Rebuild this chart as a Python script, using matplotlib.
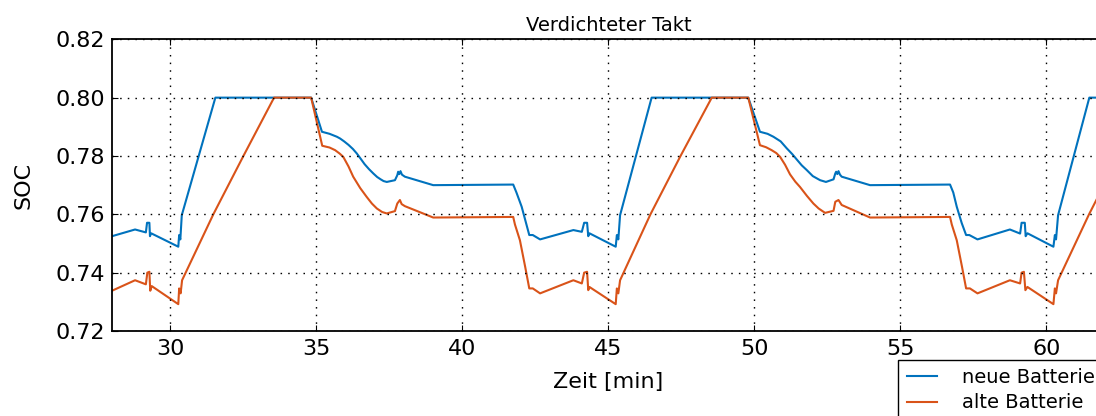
import matplotlib
matplotlib.use("Agg")
import matplotlib.pyplot as plt

# SOC-Verlauf bei verdichtetem Takt, neue vs. alte Batterie
t_neu = [28.00, 28.79, 29.16, 29.20, 29.28, 29.30, 29.34, 30.27, 30.30, 30.34,
         30.39, 31.54, 34.82, 35.19, 35.45, 35.70, 35.81, 35.95, 36.10, 36.25,
         36.38, 36.52, 36.65, 36.80, 36.95, 37.08, 37.20, 37.30, 37.41, 37.69,
         37.77, 37.80, 37.84, 37.88, 37.93, 38.03, 39.00, 41.74, 41.85, 42.03,
         42.18, 42.29, 42.41, 42.66, 43.80, 44.09, 44.17, 44.27, 44.31, 44.35,
         45.25, 45.29, 45.34, 45.40, 46.48, 49.79, 50.19, 50.45, 50.65, 50.90,
         51.11, 51.30, 51.45, 51.62, 51.79, 52.00, 52.25, 52.45, 52.71, 52.77,
         52.80, 52.84, 52.88, 52.93, 52.99, 53.96, 56.70, 56.81, 56.93, 57.10,
         57.25, 57.36, 57.64, 58.75, 59.10, 59.15, 59.26, 59.29, 59.35, 60.24,
         60.29, 60.33, 60.40, 61.47, 62.50]
soc_neu = [0.7525, 0.7548, 0.7538, 0.7571, 0.7571, 0.7525, 0.7535, 0.7489, 0.7529, 0.7514,
           0.7597, 0.8000, 0.8000, 0.7883, 0.7876, 0.7866, 0.7860, 0.7850, 0.7838, 0.7824,
           0.7809, 0.7790, 0.7772, 0.7755, 0.7740, 0.7728, 0.7720, 0.7714, 0.7711, 0.7717,
           0.7734, 0.7746, 0.7738, 0.7748, 0.7736, 0.7729, 0.7700, 0.7702, 0.7675, 0.7626,
           0.7570, 0.7529, 0.7529, 0.7514, 0.7546, 0.7540, 0.7571, 0.7571, 0.7525, 0.7535,
           0.7489, 0.7529, 0.7514, 0.7597, 0.8000, 0.8000, 0.7883, 0.7876, 0.7866, 0.7850,
           0.7826, 0.7806, 0.7788, 0.7768, 0.7752, 0.7731, 0.7717, 0.7711, 0.7720, 0.7740,
           0.7746, 0.7738, 0.7748, 0.7736, 0.7729, 0.7700, 0.7702, 0.7675, 0.7626, 0.7570,
           0.7529, 0.7529, 0.7514, 0.7548, 0.7534, 0.7571, 0.7571, 0.7525, 0.7535, 0.7489,
           0.7529, 0.7514, 0.7597, 0.8000, 0.8000]

t_alt = [28.00, 28.79, 29.16, 29.21, 29.28, 29.31, 29.36, 30.27, 30.30, 30.35,
         30.40, 31.47, 32.50, 33.55, 34.82, 35.20, 35.45, 35.64, 35.80, 35.92,
         36.10, 36.26, 36.50, 36.72, 36.90, 37.07, 37.25, 37.41, 37.69, 37.77,
         37.86, 37.92, 38.03, 39.00, 41.74, 41.80, 41.97, 42.15, 42.29, 42.41,
         42.66, 43.80, 44.09, 44.17, 44.27, 44.31, 44.35, 45.25, 45.29, 45.34,
         45.40, 46.44, 47.47, 48.54, 49.79, 50.19, 50.40, 50.59, 50.75, 50.88,
         51.05, 51.22, 51.40, 51.56, 51.80, 52.02, 52.20, 52.42, 52.71, 52.77,
         52.88, 52.99, 53.96, 56.70, 56.76, 56.93, 57.11, 57.25, 57.38, 57.64,
         58.75, 59.10, 59.15, 59.23, 59.28, 59.35, 60.24, 60.29, 60.33, 60.40,
         61.46, 62.48]
soc_alt = [0.7338, 0.7374, 0.7360, 0.7400, 0.7403, 0.7338, 0.7354, 0.7292, 0.7346, 0.7329,
           0.7374, 0.7600, 0.7800, 0.8000, 0.8000, 0.7835, 0.7829, 0.7820, 0.7808, 0.7797,
           0.7764, 0.7729, 0.7690, 0.7660, 0.7637, 0.7620, 0.7608, 0.7603, 0.7611, 0.7637,
           0.7649, 0.7635, 0.7628, 0.7589, 0.7591, 0.7565, 0.7511, 0.7420, 0.7346, 0.7346,
           0.7329, 0.7374, 0.7363, 0.7400, 0.7403, 0.7340, 0.7351, 0.7292, 0.7346, 0.7329,
           0.7374, 0.7600, 0.7800, 0.8000, 0.8000, 0.7837, 0.7830, 0.7820, 0.7810, 0.7797,
           0.7770, 0.7737, 0.7712, 0.7694, 0.7663, 0.7637, 0.7620, 0.7605, 0.7612, 0.7643,
           0.7649, 0.7632, 0.7589, 0.7591, 0.7565, 0.7511, 0.7420, 0.7346, 0.7346, 0.7329,
           0.7374, 0.7363, 0.7400, 0.7403, 0.7340, 0.7351, 0.7292, 0.7346, 0.7329, 0.7374,
           0.7600, 0.7800]

x_ticks = [30, 35, 40, 45, 50, 55, 60]
y_ticks = [0.72, 0.74, 0.76, 0.78, 0.80, 0.82]

W, H = 1096, 416
fig = plt.figure(figsize=(W / 100, H / 100), dpi=100)
# Achsen ragen rechts etwas über den Bildrand hinaus
ax = fig.add_axes([112 / W, (H - 331) / H, (1104.8 - 112) / W, (331 - 39.3) / H])

ax.plot(t_neu, soc_neu, color="#0072BD", lw=1.5, label="neue Batterie")
ax.plot(t_alt, soc_alt, color="#D95319", lw=1.5, label="alte Batterie")

ax.set_xlim(28, 62)
ax.set_ylim(0.72, 0.82)
ax.set_xticks(x_ticks)
ax.set_yticks(y_ticks)
ax.set_yticklabels(["%.2f" % v for v in y_ticks])

ax.grid(True, color="black", lw=1.0, linestyle=(0, (1.1, 4.4)))
ax.set_axisbelow(False)
for s in ax.spines.values():
    s.set_linewidth(1.3)

ax.tick_params(which="both", direction="in", top=True, right=True,
               length=4.3, width=0.8, labelsize=16)
ax.tick_params(axis="x", pad=6)
ax.tick_params(axis="y", pad=5)

ax.set_title("Verdichteter Takt", fontsize=14, pad=6)
ax.set_xlabel("Zeit [min]", fontsize=16, labelpad=9)
ax.set_ylabel("SOC", fontsize=16, labelpad=16)

leg = ax.legend(loc="upper left", bbox_to_anchor=(898 / W, 1 - 359.5 / H),
                bbox_transform=fig.transFigure, borderaxespad=0,
                fontsize=14, fancybox=False, framealpha=1,
                handlelength=1.55, handletextpad=1.3, labelspacing=0.32,
                borderpad=0.45)
leg.get_frame().set_edgecolor("black")
leg.get_frame().set_linewidth(1.0)

fig.savefig("out.png", dpi=100)
